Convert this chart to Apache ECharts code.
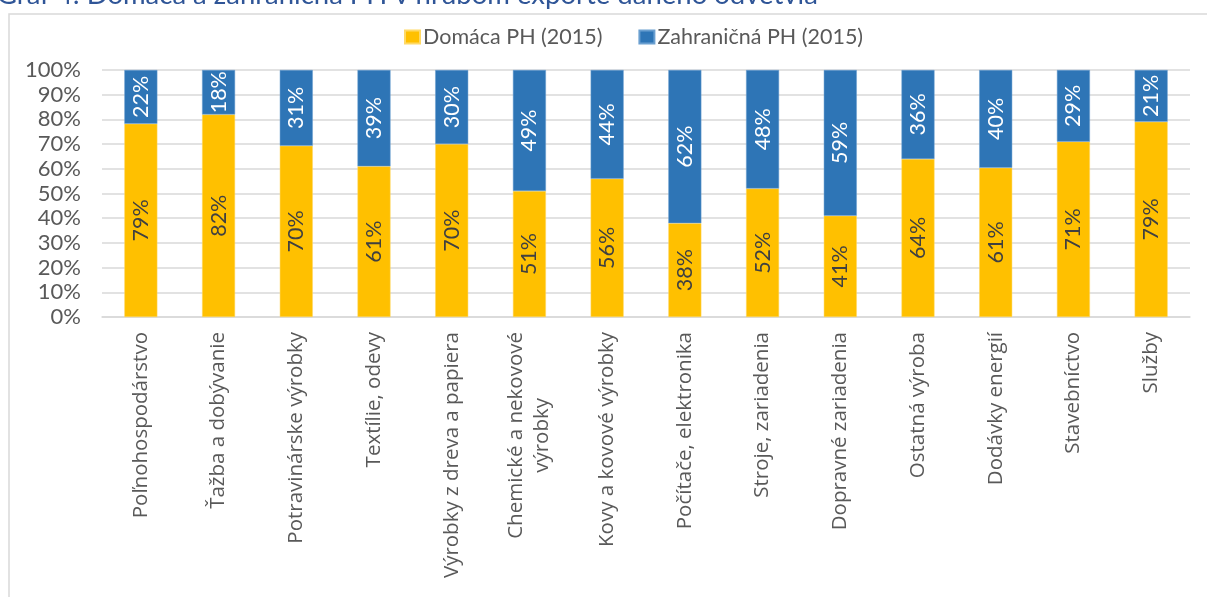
<!DOCTYPE html>
<html>
<head>
<meta charset="utf-8">
<script src="https://cdn.jsdelivr.net/npm/echarts@6/dist/echarts.min.js"></script>
<style>
  html, body { margin: 0; padding: 0; background: #fff; }
  #chart { width: 1207px; height: 597px; }
</style>
</head>
<body>
<div id="chart"></div>
<script>
// odvetvia
const categories = [
  'Poľnohospodárstvo',
  'Ťažba a dobývanie',
  'Potravinárske výrobky',
  'Textílie, odevy',
  'Výrobky z dreva a papiera',
  'Chemické a nekovové\nvýrobky',
  'Kovy a kovové výrobky',
  'Počítače, elektronika',
  'Stroje, zariadenia',
  'Dopravné zariadenia',
  'Ostatná výroba',
  'Dodávky energií',
  'Stavebníctvo',
  'Služby'
];
// podiely v % (ako v popisoch grafu)
const domestic = [79, 82, 70, 61, 70, 51, 56, 38, 52, 41, 64, 61, 71, 79];
const foreign = [22, 18, 31, 39, 30, 49, 44, 62, 48, 59, 36, 40, 29, 21];
const yTicks = [0, 10, 20, 30, 40, 50, 60, 70, 80, 90, 100];

// 100% skladany stlpec - normalizacia ako v Exceli
const domesticShare = domestic.map((v, i) => v / (v + foreign[i]) * 100);
const foreignShare = foreign.map((v, i) => v / (domestic[i] + v) * 100);

const chart = echarts.init(document.getElementById('chart'));

const labelFont = 'Lato, "Liberation Sans", sans-serif';

chart.setOption({
  animation: false,
  color: ['#FFC000', '#2E75B6'],
  graphic: [
    {
      type: 'rect',
      shape: { x: 9, y: 14, width: 1220, height: 600 },
      style: { fill: 'none', stroke: '#D9D9D9', lineWidth: 1.5 },
      silent: true
    },
    {
      type: 'text',
      x: -3,
      y: 9,
      style: {
        text: 'Graf 4: Domáca a zahraničná PH v hrubom exporte daného odvetvia',
        font: '27.5px ' + labelFont,
        fill: '#2F5597',
        verticalAlign: 'bottom'
      },
      silent: true
    }
  ],
  legend: {
    data: ['Domáca PH (2015)', 'Zahraničná PH (2015)'],
    left: 399,
    top: 21,
    icon: 'rect',
    itemWidth: 15,
    itemHeight: 13,
    itemGap: 36,
    textStyle: { color: '#595959', fontSize: 21.5, fontFamily: labelFont, padding: [0, 0, 0, -2] }
  },
  grid: {
    left: 102,
    right: 17,
    top: 70,
    bottom: 280,
    containLabel: false
  },
  xAxis: {
    type: 'category',
    data: categories,
    axisLine: { lineStyle: { color: '#D9D9D9', width: 1.5 } },
    axisTick: { show: false },
    axisLabel: {
      interval: 0,
      rotate: 90,
      margin: 15,
      color: '#595959',
      fontSize: 20.5,
      fontFamily: '"Open Sans", sans-serif',
      formatter: (v) => v.split('\n').map(s => '{c|' + s + '}').join('\n'),
      rich: {
        c: {
          align: 'center',
          color: '#595959',
          fontSize: 20.5,
          fontFamily: '"Open Sans", sans-serif',
          lineHeight: 26
        }
      }
    }
  },
  yAxis: {
    type: 'value',
    min: yTicks[0],
    max: yTicks[yTicks.length - 1],
    interval: 10,
    axisLine: { show: false },
    axisTick: { show: false },
    axisLabel: {
      margin: 21,
      color: '#595959',
      fontSize: 22,
      fontFamily: labelFont,
      formatter: '{value}%'
    },
    splitLine: { lineStyle: { color: '#D9D9D9', width: 1.5 } }
  },
  series: [
    {
      name: 'Domáca PH (2015)',
      type: 'bar',
      stack: 'total',
      barWidth: 33,
      data: domesticShare,
      itemStyle: { color: '#FFC000', borderColor: '#FFD966', borderWidth: 0.5 },
      label: {
        show: true,
        position: 'inside',
        rotate: 90,
        color: '#404040',
        fontSize: 21.5,
        fontFamily: labelFont,
        formatter: (p) => domestic[p.dataIndex] + '%'
      }
    },
    {
      name: 'Zahraničná PH (2015)',
      type: 'bar',
      stack: 'total',
      barWidth: 33,
      data: foreignShare,
      itemStyle: { color: '#2E75B6', borderColor: '#6A9FD0', borderWidth: 0.5 },
      label: {
        show: true,
        position: 'inside',
        rotate: 90,
        color: '#FFFFFF',
        fontSize: 21.5,
        fontFamily: labelFont,
        formatter: (p) => foreign[p.dataIndex] + '%'
      }
    }
  ]
});
</script>
</body>
</html>
